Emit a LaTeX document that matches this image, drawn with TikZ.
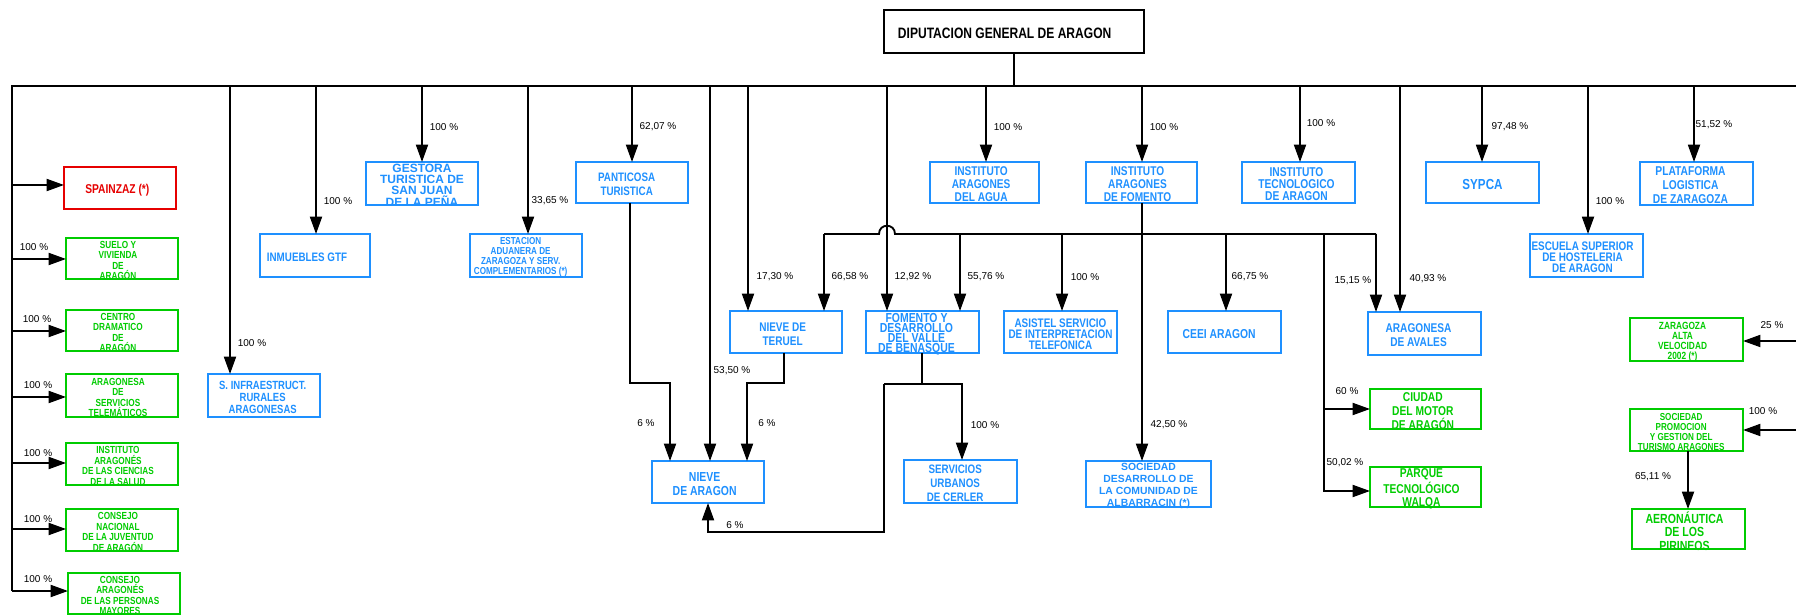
\documentclass[tikz,border=0pt]{standalone}
\usepackage{fontspec}
\setmainfont{Liberation Sans}
\newfontfamily\nar{Liberation Sans}[FakeStretch=0.8]
\usetikzlibrary{arrows.meta}
\definecolor{cblue}{RGB}{30,144,255}
\definecolor{cgreen}{RGB}{0,204,0}
\definecolor{cred}{RGB}{230,0,0}
\newcommand\fs[2]{\nar\bfseries\fontsize{#1}{#2}\selectfont}
\newcommand\fw[2]{\bfseries\fontsize{#1}{#2}\selectfont}
\tikzset{
  boxst/.style={line width=1.3pt, inner sep=0pt, outer sep=0pt, fill=white},
  txtst/.style={align=center, inner sep=0pt},
  ln/.style={line width=1.4pt, line join=miter},
  arr/.style={ln, -{Triangle[length=13pt,width=9pt]}},
  pct/.style={font=\fontsize{7.5}{8}\selectfont, inner sep=0pt, text=black},
  gl/.style={font=\fs{7.7}{7.8}, xshift=-3pt}
}
\newcommand\obox[8]{%
  \node[boxst, draw=#6, minimum width={(#4-#2)*0.75pt}, minimum height={(#5-#3)*0.75pt}] (#1) at ({(#2+#4)/2},{(#3+#5)/2}) {};
  \node[txtst, text=#6, #7] (#1t) at ([yshift=-1.5pt]#1.center) {#8};}
\begin{document}
\begin{tikzpicture}[x=0.75pt,y=-0.75pt]
\useasboundingbox (0,0) rectangle (1796,616);

% ---------- boxes ----------
\obox{dga}{884}{10}{1144}{53}{black}{font=\fs{11.3}{12}, xshift=-7pt}{DIPUTACION GENERAL DE ARAGON}
\obox{spa}{64}{167}{176}{209}{cred}{font=\fs{9.6}{10}, xshift=-2pt}{SPAINZAZ (*)}
\obox{suelo}{66}{238}{178}{279}{cgreen}{gl}{SUELO Y\\VIVIENDA\\DE\\ARAGÓN}
\obox{centro}{66}{310}{178}{351}{cgreen}{gl}{CENTRO\\DRAMATICO\\DE\\ARAGÓN}
\obox{ast}{66}{374}{178}{417}{cgreen}{gl}{ARAGONESA\\DE\\SERVICIOS\\TELEMÁTICOS}
\obox{iacs}{66}{443}{178}{485}{cgreen}{gl}{INSTITUTO\\ARAGONÉS\\DE LAS CIENCIAS\\DE LA SALUD}
\obox{cnj}{66}{509}{178}{551}{cgreen}{gl}{CONSEJO\\NACIONAL\\DE LA JUVENTUD\\DE ARAGÓN}
\obox{capm}{68}{573}{180}{614}{cgreen}{gl}{CONSEJO\\ARAGONÉS\\DE LAS PERSONAS\\MAYORES}

\obox{sinf}{208}{374}{320}{417}{cblue}{font=\fs{8.9}{9}, xshift=-1pt}{S. INFRAESTRUCT.\\RURALES\\ARAGONESAS}
\obox{inm}{260}{234}{370}{277}{cblue}{font=\fs{9.2}{10}, xshift=-6pt}{INMUEBLES GTF}
\obox{gest}{366}{162}{478}{205}{cblue}{font=\fw{9}{8}}{GESTORA\\TURISTICA DE\\SAN JUAN\\DE LA PEÑA}
\obox{esta}{470}{234}{582}{277}{cblue}{font=\fs{7.6}{7.5}, xshift=-4pt}{ESTACION\\ADUANERA DE\\ZARAGOZA Y SERV.\\COMPLEMENTARIOS (*)}
\obox{pant}{576}{162}{688}{203}{cblue}{font=\fs{9.2}{10.5}, xshift=-4pt}{PANTICOSA\\TURISTICA}
\obox{agua}{930}{162}{1039}{203}{cblue}{font=\fs{9.5}{9.75}, xshift=-2.5pt}{INSTITUTO\\ARAGONES\\DEL AGUA}
\obox{iaf}{1086}{162}{1197}{203}{cblue}{font=\fs{9.5}{9.75}, xshift=-3pt}{INSTITUTO\\ARAGONES\\DE FOMENTO}
\obox{itec}{1242}{162}{1355}{203}{cblue}{font=\fs{9.6}{9}, xshift=-1.5pt}{INSTITUTO\\TECNOLOGICO\\DE ARAGON}
\obox{sypca}{1426}{162}{1539}{203}{cblue}{font=\fs{10.9}{11}}{SYPCA}
\obox{plat}{1640}{162}{1753}{205}{cblue}{font=\fs{9.6}{10.5}, xshift=-4.5pt}{PLATAFORMA\\LOGISTICA\\DE ZARAGOZA}
\obox{esc}{1530}{234}{1643}{277}{cblue}{font=\fs{9.3}{8.3}, xshift=-3pt}{ESCUELA SUPERIOR\\DE HOSTELERIA\\DE ARAGON}
\obox{nt}{730}{311}{842}{353}{cblue}{font=\fs{9.4}{10.5}, xshift=-2.5pt}{NIEVE DE\\TERUEL}
\obox{na}{652}{461}{764}{503}{cblue}{font=\fs{9.8}{10.5}, xshift=-2.5pt}{NIEVE\\DE ARAGON}
\obox{fom}{866}{311}{979}{353}{cblue}{font=\fs{9.8}{7.5}, xshift=-4.5pt}{FOMENTO Y\\DESARROLLO\\DEL VALLE\\DE BENASQUE}
\obox{asis}{1004}{311}{1117}{353}{cblue}{font=\fs{9.3}{8.3}}{ASISTEL SERVICIO\\DE INTERPRETACION\\TELEFONICA}
\obox{ceei}{1168}{311}{1281}{353}{cblue}{font=\fs{9.7}{10}, xshift=-4pt}{CEEI ARAGON}
\obox{serv}{904}{460}{1017}{503}{cblue}{font=\fs{9.2}{10.5}, xshift=-4pt}{SERVICIOS\\URBANOS\\DE CERLER}
\obox{sdca}{1086}{461}{1211}{507}{cblue}{font=\fw{7.8}{9}}{SOCIEDAD\\DESARROLLO DE\\LA COMUNIDAD DE\\ALBARRACIN (*)}
\obox{aval}{1368}{312}{1481}{355}{cblue}{font=\fs{9.5}{10.5}, xshift=-4.5pt}{ARAGONESA\\DE AVALES}
\obox{ciud}{1370}{389}{1481}{429}{cgreen}{font=\fs{9.6}{10.5}, xshift=-2pt}{CIUDAD\\DEL MOTOR\\DE ARAGÓN}
\obox{parq}{1370}{467}{1481}{507}{cgreen}{font=\fs{9.6}{10}, xshift=-3pt}{PARQUE\\TECNOLÓGICO\\WALQA}
\obox{zav}{1630}{318}{1743}{361}{cgreen}{font=\fs{7.8}{7.5}, xshift=-3pt}{ZARAGOZA\\ALTA\\VELOCIDAD\\2002 (*)}
\obox{spt}{1630}{409}{1743}{451}{cgreen}{font=\fs{7.6}{7.7}, xshift=-4pt}{SOCIEDAD\\PROMOCION\\Y GESTION DEL\\TURISMO ARAGONES}
\obox{aero}{1632}{509}{1745}{549}{cgreen}{font=\fs{9.9}{10}, xshift=-3pt}{AERONÁUTICA\\DE LOS\\PIRINEOS}

% ---------- main bus ----------
\coordinate (busL) at (12,86);
\coordinate (busR) at (1796,86);
\coordinate (lspend) at (12,591);
\draw[ln] (lspend) -- (busL) -- (busR);
\coordinate (dtop) at (1014,86);
\draw[ln] (dtop |- dga.south) -- (dtop);

% left spine arrows
\foreach \n/\y/\b in {a/185/spa, b/259/suelo, c/331/centro, d/397/ast, e/463/iacs, f/529/cnj, g/591/capm}{
  \coordinate (lsp\n) at (12,\y);
  \draw[arr] (lsp\n) -- (lsp\n -| \b.west);
}

% drops from the main bus
\foreach \x/\b in {230/sinf, 316/inm, 422/gest, 528/esta, 632/pant, 710/na, 748/nt, 887/fom, 986/agua, 1142/iaf, 1300/itec, 1400/aval, 1482/sypca, 1588/esc, 1694/plat}{
  \coordinate (d\x) at (\x,86);
  \draw[arr] (d\x) -- (d\x |- \b.north);
}

% sub-bus of Instituto Aragones de Fomento
\draw[arr] (d1142 |- iaf.south) -- (d1142 |- sdca.north);
\coordinate (sbL) at (824,234);
\coordinate (hopL) at (879,234);
\coordinate (hopR) at (895,234);
\coordinate (sbR) at (1376,234);
\draw[ln] (sbL) -- (hopL) .. controls +(0,-11) and +(0,-11) .. (hopR) -- (sbR);
\foreach \x/\b in {824/nt, 960/fom, 1062/asis, 1226/ceei, 1376/aval}{
  \coordinate (s\x) at (\x,234);
  \draw[arr] (s\x) -- (s\x |- \b.north);
}
\coordinate (s1324) at (1324,234);
\coordinate (p409) at (1324,409);
\coordinate (p491) at (1324,491);
\draw[arr] (s1324) -- (p491) -- (p491 -| parq.west);
\draw[arr] (p409) -- (p409 -| ciud.west);

% towards Nieve de Aragon
\coordinate (pj) at (630,383);
\coordinate (pk) at (670,383);
\coordinate (tj) at (784,383);
\coordinate (tk) at (747,383);
\draw[arr] (pj |- pant.south) -- (pj) -- (pk) -- (pk |- na.north);
\draw[arr] (tj |- nt.south) -- (tj) -- (tk) -- (tk |- na.north);

% Fomento y Desarrollo del Valle de Benasque
\coordinate (fj) at (922,384);
\coordinate (fl) at (884,384);
\coordinate (fr) at (962,384);
\coordinate (fb) at (884,532);
\coordinate (nb) at (708,532);
\draw[ln] (fj |- fom.south) -- (fj);
\draw[arr] (fl) -- (fr) -- (fr |- serv.north);
\draw[arr] (fl) -- (fb) -- (nb) -- (nb |- na.south);

% right side
\coordinate (aj) at (1688,480);
\draw[arr] (aj |- spt.south) -- (aj |- aero.north);
\coordinate (r1) at (1796,341);
\coordinate (r2) at (1796,430);
\draw[arr] (r1) -- (r1 -| zav.east);
\draw[arr] (r2) -- (r2 -| spt.east);

% ---------- percentages ----------
\node[pct] (pcgest) at (444,127) {100 \%};
\node[pct] (pcpant) at (658,127) {62,07 \%};
\node[pct] (pcagua) at (1008,127) {100 \%};
\node[pct] (pciaf) at (1164,127) {100 \%};
\node[pct] (pcitec) at (1321,123) {100 \%};
\node[pct] (pcsypca) at (1510,127) {97,48 \%};
\node[pct] (pcplat) at (1714,125) {51,52 \%};
\node[pct] (pcinm) at (338,201) {100 \%};
\node[pct] (pcesta) at (550,201) {33,65 \%};
\node[pct] (pcesc) at (1610,201) {100 \%};
\node[pct] (pcsinf) at (252,343) {100 \%};
\node[pct] (pcnta) at (775,277) {17,30 \%};
\node[pct] (pcntb) at (850,277) {66,58 \%};
\node[pct] (pcfoma) at (913,277) {12,92 \%};
\node[pct] (pcfomb) at (986,277) {55,76 \%};
\node[pct] (pcasis) at (1085,277) {100 \%};
\node[pct] (pcceei) at (1250,277) {66,75 \%};
\node[pct] (pcavala) at (1353,281) {15,15 \%};
\node[pct] (pcavalb) at (1428,279) {40,93 \%};
\node[pct] (pcnaa) at (732,371) {53,50 \%};
\node[pct] (pcnab) at (646,423) {6 \%};
\node[pct] (pcnac) at (767,423) {6 \%};
\node[pct] (pcnad) at (735,525) {6 \%};
\node[pct] (pcserv) at (985,425) {100 \%};
\node[pct] (pcsdca) at (1169,425) {42,50 \%};
\node[pct] (pcciud) at (1347,391) {60 \%};
\node[pct] (pcparq) at (1345,463) {50,02 \%};
\node[pct] (pczav) at (1772,325) {25 \%};
\node[pct] (pcspt) at (1763,411) {100 \%};
\node[pct] (pcaero) at (1653,477) {65,11 \%};
\node[pct] (pcl1) at (34,247) {100 \%};
\node[pct] (pcl2) at (37,319) {100 \%};
\node[pct] (pcl3) at (38,385) {100 \%};
\node[pct] (pcl4) at (38,453) {100 \%};
\node[pct] (pcl5) at (38,519) {100 \%};
\node[pct] (pcl6) at (38,579) {100 \%};
\end{tikzpicture}
\end{document}
